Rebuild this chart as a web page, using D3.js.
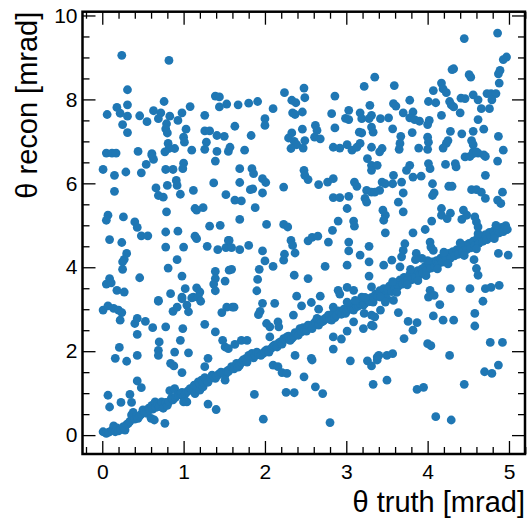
<!DOCTYPE html>
<html><head><meta charset="utf-8">
<script src="https://cdn.jsdelivr.net/npm/d3@7"></script>
<style>html,body{margin:0;padding:0;background:#fff;}svg{display:block;}</style>
</head><body>
<svg id="chart" width="529" height="519"></svg>
<script>
// Scattered (mis-reconstructed) points: theta truth / theta recon [mrad]
const scatterTruth = [
0.24,0.82,0.31,0.31,0.18,0.06,0.22,0.31,0.25,0.31,0.46,0.55,0.63,0.72,0.76,0.69,0.79,0.83,0.78,0.80,0.93,0.98,1.08,1.03,1.00,1.01,1.10,0.81,0.82,0.89,0.77,0.61,0.44,0.05,0.12,0.17,1.26,1.26,1.32,1.28,1.41,1.50,1.26,1.41,1.55,1.39,1.44,1.44,1.53,
3.35,3.22,2.48,2.49,2.24,2.33,2.38,2.86,1.67,1.80,1.91,2.10,2.00,2.00,1.63,1.83,1.57,1.75,2.34,2.37,2.46,2.46,2.33,2.29,2.36,2.39,2.32,2.49,2.47,2.62,2.64,2.61,2.68,2.82,2.86,3.03,2.99,3.03,3.17,3.19,3.29,3.31,3.28,3.16,3.19,2.84,2.92,3.01,3.07,3.13,3.17,3.31,3.33,3.31,
4.86,4.45,4.97,4.93,4.89,4.87,4.88,4.32,4.30,4.51,4.53,3.59,4.07,4.17,4.19,4.23,4.41,4.46,4.56,4.62,4.73,4.78,4.84,4.79,4.66,4.76,3.78,4.01,4.10,4.27,4.29,4.32,4.40,3.58,3.61,3.70,3.82,3.78,3.84,3.90,3.52,3.42,4.17,4.02,4.00,4.62,4.69,4.28,4.42,4.56,3.57,3.81,3.67,4.00,4.01,4.25,4.23,4.19,4.54,4.56,4.87,4.93,3.66,3.65,3.44,3.41,3.89,4.00,4.56,4.62,4.69,
0.01,0.15,0.29,0.48,0.54,0.63,0.61,0.78,0.87,1.00,0.99,0.91,0.92,0.96,0.80,0.66,0.69,0.75,0.15,1.12,1.37,1.39,1.52,0.79,1.14,1.16,1.24,0.07,0.05,0.26,0.40,0.43,0.48,0.56,0.78,0.93,1.14,1.16,1.32,1.45,1.55,0.09,0.24,0.78,1.00,1.29,1.42,1.52,0.30,0.27,0.25,0.92,0.25,0.81,0.46,0.98,1.39,1.56,0.09,0.05,0.11,0.18,0.27,1.39,1.37,1.39,1.51,0.84,0.69,1.02,1.16,1.20,1.12,0.98,
1.69,1.84,1.86,1.69,1.97,2.01,1.82,1.85,1.97,2.23,1.63,1.71,1.88,1.69,2.02,2.23,2.28,2.48,2.49,2.53,2.66,2.77,2.84,2.84,2.92,3.03,3.01,3.10,3.13,3.26,3.31,3.31,3.25,3.31,3.23,3.25,2.90,2.83,3.09,3.10,2.53,2.58,2.65,2.78,2.32,2.34,2.37,2.24,2.23,1.56,1.59,1.69,1.80,1.97,2.00,2.10,1.59,1.93,1.91,1.90,2.36,2.53,2.74,3.03,3.03,3.01,3.17,3.28,3.28,3.28,3.31,2.90,2.92,3.01,3.09,3.19,3.23,2.39,2.68,
3.38,3.44,3.48,3.41,3.35,3.58,3.57,3.68,3.70,3.74,3.78,3.82,3.92,4.01,4.03,4.06,4.08,4.06,4.22,4.34,4.35,4.26,4.30,4.46,4.52,4.56,4.60,4.71,4.86,4.71,4.54,4.60,4.66,4.71,4.86,4.90,4.92,3.64,3.70,3.45,3.48,3.46,3.48,3.82,3.97,4.05,4.17,4.17,4.28,4.24,4.44,4.42,4.48,4.58,4.60,4.62,4.03,4.04,4.07,3.72,3.70,3.68,3.86,3.93,3.85,3.56,3.66,3.46,4.87,4.99,4.57,4.60,4.62,4.28,4.52,4.71,4.78,4.88,4.03,4.01,
0.01,0.07,0.14,0.20,0.24,0.22,0.40,0.43,0.53,0.69,0.62,0.43,0.78,0.87,0.92,0.98,1.04,1.06,1.10,1.18,1.21,0.99,1.26,1.39,1.47,1.53,0.70,0.69,0.69,0.21,0.16,0.30,0.43,0.89,1.06,0.96,0.84,0.88,0.98,1.26,1.30,1.48,1.51,0.43,0.48,0.07,0.09,0.23,0.34,0.36,1.30,1.40,0.77,
1.60,1.62,1.97,2.12,1.94,1.92,2.57,2.45,2.35,2.66,2.84,3.01,3.11,2.02,2.06,2.16,2.17,2.06,1.71,1.78,1.63,1.55,2.84,2.94,2.84,3.01,3.09,3.21,3.31,3.31,3.22,2.37,2.57,2.58,2.10,2.16,2.21,2.27,2.48,2.62,2.71,2.26,2.36,1.87,1.98,2.80,3.05,3.26,3.31,3.33,
3.42,3.48,3.58,3.42,3.35,3.33,3.64,3.76,3.87,3.82,3.71,4.08,4.15,4.07,4.19,4.32,4.00,4.04,4.27,4.68,4.58,4.58,4.77,4.92,3.38,3.40,3.38,3.50,3.57,3.50,3.87,3.95,4.45,4.70,4.79,4.87,4.10,4.29
];
const scatterRecon = [
9.05,8.93,8.23,7.87,7.81,7.64,7.67,7.60,7.40,7.21,7.61,7.47,7.73,7.68,7.95,7.54,7.42,7.60,7.30,7.20,7.50,7.68,7.83,7.29,7.10,6.98,6.79,6.95,6.83,6.83,6.75,6.71,6.76,6.72,6.72,6.72,7.62,7.25,7.25,6.98,7.14,7.12,6.81,6.76,6.76,8.08,8.06,7.82,7.89,
8.53,8.31,8.27,8.04,8.16,7.98,7.92,8.08,7.87,7.91,7.95,7.78,7.54,7.38,7.36,7.14,6.86,6.79,7.68,7.64,7.70,7.29,7.20,7.08,7.00,6.92,6.83,7.02,6.84,7.38,7.26,7.10,7.06,7.66,7.32,7.74,7.55,7.52,7.68,7.54,7.86,7.62,7.54,7.22,7.20,6.86,6.84,6.92,6.79,6.86,6.95,7.34,7.22,6.86,
9.58,9.45,9.01,8.95,8.69,8.61,8.39,8.73,8.71,8.59,8.53,8.33,8.21,8.39,8.25,8.16,8.03,8.02,8.11,7.99,8.14,8.14,8.14,7.99,7.78,7.78,7.98,7.95,7.92,7.95,7.87,7.82,7.68,7.90,7.84,7.68,7.70,7.56,7.52,7.48,7.56,7.54,7.62,7.50,7.40,7.52,7.29,7.24,7.18,7.24,7.30,7.21,7.12,7.10,6.98,7.02,6.95,6.84,7.02,6.92,7.12,6.79,6.95,6.81,6.83,6.75,6.84,6.81,6.75,6.72,6.68,
6.33,6.19,6.27,6.25,6.45,6.57,6.67,6.33,6.33,6.48,6.35,6.07,5.95,5.74,5.95,5.89,5.71,5.67,5.81,5.83,6.01,6.53,5.73,5.32,5.40,5.36,5.42,5.24,5.12,5.20,5.08,4.95,4.75,4.75,4.84,4.86,4.74,4.68,4.98,5.00,4.64,4.66,4.59,4.48,4.48,4.50,4.42,4.47,4.33,4.19,4.13,4.18,3.95,3.98,3.75,3.79,3.90,3.93,3.73,3.60,3.63,3.45,3.41,3.73,3.60,3.44,3.67,3.37,3.21,3.49,3.51,3.41,3.29,3.29,
6.35,6.35,6.23,6.02,6.11,6.02,5.85,5.87,5.77,5.91,5.60,5.58,5.42,5.14,5.02,5.02,4.96,6.31,6.19,6.09,5.97,6.03,6.11,5.66,5.66,5.69,5.40,6.03,5.93,6.59,6.43,6.31,5.83,5.79,5.64,5.55,5.10,4.88,5.10,4.98,4.63,4.71,4.74,4.60,4.64,4.52,4.34,4.31,4.17,4.64,4.47,4.42,4.52,4.39,4.15,4.02,3.95,3.95,3.71,3.44,3.81,3.73,4.02,4.60,4.39,4.05,4.29,4.50,4.13,3.79,3.53,3.45,3.36,3.52,3.45,3.29,3.28,3.31,3.31,
6.43,6.03,5.99,5.83,5.79,6.19,5.99,6.03,5.77,6.31,6.43,6.15,6.17,6.47,6.35,5.99,5.77,5.71,6.45,6.47,6.39,5.93,5.93,6.63,6.64,6.71,6.75,6.64,6.53,6.19,5.85,5.85,5.79,5.64,5.60,5.52,5.79,5.55,5.32,5.36,5.24,5.12,4.82,4.82,4.90,5.10,5.40,5.24,5.29,5.16,5.36,5.14,5.24,5.20,5.08,4.96,4.60,4.48,4.40,4.56,4.40,4.25,4.33,4.21,4.18,4.17,4.01,4.05,4.33,4.29,4.18,3.97,3.81,3.49,3.49,3.49,3.52,3.57,3.45,3.29,
2.98,3.08,3.02,2.98,2.92,2.74,2.66,2.78,2.71,3.19,2.56,2.40,2.58,2.95,3.05,3.25,3.10,2.94,3.27,3.29,3.19,2.54,2.64,2.46,2.92,3.05,2.22,2.02,1.90,2.09,1.83,1.76,1.90,1.98,1.96,2.26,1.71,1.65,1.49,1.63,1.83,2.26,2.10,1.29,1.13,0.95,0.67,0.78,0.97,0.78,0.74,0.61,0.28,
3.05,3.05,3.14,3.14,2.95,2.87,3.16,3.08,2.86,3.00,3.05,3.17,3.21,2.66,2.58,2.70,2.58,2.34,2.26,2.26,2.16,2.06,2.34,2.29,2.05,2.48,2.70,2.54,2.62,2.86,2.90,1.90,1.83,1.79,1.67,1.63,1.49,1.47,1.39,1.15,0.99,1.02,1.01,0.97,0.38,0.30,1.77,1.77,1.65,1.21,
3.29,3.17,3.21,2.98,2.82,2.60,2.92,2.71,2.68,2.50,2.30,3.33,3.11,2.84,2.74,2.74,2.18,2.13,1.90,3.19,2.90,2.60,2.21,2.21,1.86,1.90,1.79,1.90,1.94,1.31,1.09,1.14,1.21,1.51,1.47,1.67,0.44,0.36
];
// Points along the diagonal (well reconstructed)
const bandTruth = [
0.01,0.05,0.08,0.12,0.14,0.16,0.18,0.20,0.23,0.26,0.28,0.30,0.32,0.34,0.36,0.38,0.40,0.42,0.44,0.46,0.48,0.50,0.52,0.55,0.57,0.58,0.60,0.61,0.62,0.64,0.65,0.66,0.68,0.70,0.73,0.75,0.78,0.80,0.82,0.83,0.85,0.87,0.89,0.90,0.92,0.94,0.96,0.98,1.00,1.00,1.02,1.04,1.04,1.06,1.08,1.10,1.12,1.13,1.14,1.16,1.18,1.20,1.20,1.22,1.24,1.24,1.26,1.28,1.30,1.33,1.35,1.37,1.39,1.41,1.43,1.46,1.49,1.51,1.53,1.55,
1.51,1.55,1.59,1.62,1.65,1.67,1.69,1.71,1.73,1.76,1.78,1.80,1.84,1.86,1.88,1.90,1.92,1.95,1.98,2.00,2.02,2.05,2.08,2.10,2.12,2.15,2.17,2.19,2.21,2.23,2.25,2.27,2.29,2.31,2.33,2.35,2.37,2.39,2.41,2.43,2.45,2.47,2.49,2.51,2.53,2.55,2.58,2.60,2.62,2.64,2.66,2.68,2.70,2.72,2.74,2.76,2.78,2.80,2.82,2.84,2.86,2.88,2.90,2.92,2.94,2.97,2.99,3.01,3.03,3.05,3.07,3.09,3.11,3.13,3.15,3.17,3.19,3.21,3.23,3.25,3.27,3.29,3.31,3.33,
3.34,3.36,3.39,3.41,3.44,3.46,3.48,3.51,3.53,3.56,3.58,3.60,3.63,3.64,3.66,3.69,3.71,3.73,3.76,3.78,3.80,3.83,3.85,3.88,3.90,3.93,3.94,3.97,3.99,4.02,4.04,4.06,4.09,4.11,4.13,4.16,4.18,4.21,4.23,4.26,4.28,4.31,4.33,4.36,4.38,4.41,4.43,4.46,4.48,4.51,4.53,4.56,4.58,4.61,4.63,4.66,4.68,4.71,4.73,4.76,4.78,4.81,4.83,4.86,4.88,4.91,4.93,4.96,4.98,
3.50,3.62,3.75,3.88,3.98,4.12,4.25,4.45,4.60,4.82,3.57,3.79,4.00,4.20,4.40,4.62,4.84
];
const bandRecon = [
0.08,0.04,0.07,0.12,0.22,0.08,0.17,0.10,0.14,0.20,0.12,0.25,0.28,0.33,0.48,0.54,0.38,0.44,0.40,0.46,0.50,0.60,0.55,0.52,0.64,0.60,0.40,0.71,0.62,0.36,0.79,0.66,0.74,0.68,0.79,0.64,0.78,0.71,0.80,1.06,0.88,0.84,1.11,0.90,0.95,0.96,0.99,1.02,0.91,0.79,0.98,1.03,0.79,1.06,1.11,1.08,1.14,1.19,0.99,1.16,1.27,1.07,1.22,1.31,1.15,1.25,1.37,1.30,1.26,1.36,1.43,1.40,1.35,1.41,1.45,1.50,1.47,1.43,1.52,1.55,
1.31,1.51,1.63,1.58,1.71,1.62,1.67,1.74,1.79,1.82,1.74,1.90,1.95,1.84,1.90,1.98,1.95,1.90,1.95,2.00,2.03,1.98,2.07,2.12,2.15,2.10,2.20,2.22,2.17,2.30,2.28,2.34,2.36,2.26,2.30,2.34,2.44,2.42,2.38,2.54,2.46,2.56,2.50,2.48,2.62,2.60,2.54,2.66,2.70,2.78,2.62,2.74,2.70,2.72,2.78,2.80,2.86,2.76,2.74,2.90,2.80,2.86,2.96,2.94,2.88,3.00,2.90,2.96,3.02,3.08,3.02,2.98,3.12,3.06,3.08,3.14,3.20,3.10,3.14,3.24,3.21,3.18,3.28,3.17,
3.27,3.36,3.31,3.44,3.38,3.49,3.33,3.47,3.55,3.42,3.58,3.50,3.64,3.55,3.70,3.60,3.76,3.66,3.72,3.83,3.70,3.86,3.76,3.92,3.82,3.96,3.87,4.02,3.93,4.08,3.98,4.13,4.02,4.16,4.08,4.22,4.12,4.28,4.17,4.33,4.22,4.37,4.27,4.42,4.31,4.47,4.36,4.52,4.42,4.57,4.46,4.62,4.52,4.68,4.57,4.72,4.62,4.78,4.66,4.83,4.72,4.86,4.77,4.90,4.82,4.95,4.85,4.99,4.90,
3.25,3.40,3.58,3.68,3.80,3.96,4.08,4.28,4.44,4.68,3.66,3.95,4.16,4.36,4.58,4.80,5.00
];
const xMajorTicks = [0, 1, 2, 3, 4, 5];
const yMajorTicks = [0, 2, 4, 6, 8, 10];
const xMinorTicks = [-0.2,0.2,0.4,0.6,0.8,1.2,1.4,1.6,1.8,2.2,2.4,2.6,2.8,3.2,3.4,3.6,3.8,4.2,4.4,4.6,4.8,5.2];
const yMinorTicks = [0.5,1,1.5,2.5,3,3.5,4.5,5,5.5,6.5,7,7.5,8.5,9,9.5];
const xTitle = "θ truth [mrad]";
const yTitle = "θ recon [mrad]";

const pts = [];
bandTruth.forEach((t, i) => pts.push([t, bandRecon[i]]));
scatterTruth.forEach((t, i) => pts.push([t, scatterRecon[i]]));

const svg = d3.select("#chart");
const m = {left: 82.5, top: 11.7, right: 525, bottom: 454};
const W = m.right - m.left, H = m.bottom - m.top;
const x = d3.scaleLinear().domain([-0.243, 5.197]).range([0, W]);
const y = d3.scaleLinear().domain([-0.45, 10.09]).range([H, 0]);
const g = svg.append("g").attr("transform", `translate(${m.left},${m.top})`);
const font = "'Liberation Sans', Arial, Helvetica, sans-serif";

g.append("g").selectAll("circle").data(pts).join("circle")
  .attr("cx", d => x(d[0])).attr("cy", d => y(d[1])).attr("r", 4.4)
  .attr("fill", "#1f77b4");

function styleAxis(sel, labels) {
  sel.select(".domain").remove();
  sel.selectAll(".tick line").attr("stroke", "#000").attr("stroke-width", 1.3);
  sel.selectAll("text").attr("font-family", font).attr("font-size", 21).attr("fill", "#000");
  if (!labels) sel.selectAll("text").remove();
}
const maj = 13, mnr = 7;
styleAxis(g.append("g").attr("transform", `translate(0,${H})`).call(d3.axisBottom(x).tickValues(xMajorTicks).tickSize(-maj).tickPadding(10.5).tickFormat(d3.format("d"))), true);
styleAxis(g.append("g").attr("transform", `translate(0,${H})`).call(d3.axisBottom(x).tickValues(xMinorTicks).tickSize(-mnr)), false);
styleAxis(g.append("g").call(d3.axisTop(x).tickValues(xMajorTicks).tickSize(-maj)), false);
styleAxis(g.append("g").call(d3.axisTop(x).tickValues(xMinorTicks).tickSize(-mnr)), false);
styleAxis(g.append("g").call(d3.axisLeft(y).tickValues(yMajorTicks).tickSize(-maj).tickPadding(5).tickFormat(d3.format("d"))), true);
styleAxis(g.append("g").call(d3.axisLeft(y).tickValues(yMinorTicks).tickSize(-mnr)), false);
styleAxis(g.append("g").attr("transform", `translate(${W},0)`).call(d3.axisRight(y).tickValues(yMajorTicks).tickSize(-maj)), false);
styleAxis(g.append("g").attr("transform", `translate(${W},0)`).call(d3.axisRight(y).tickValues(yMinorTicks).tickSize(-mnr)), false);

g.append("rect").attr("width", W).attr("height", H).attr("fill", "none")
  .attr("stroke", "#000").attr("stroke-width", 2.5);

svg.append("text").attr("x", m.right).attr("y", 512).attr("text-anchor", "end")
  .attr("font-family", font).attr("font-size", 29).attr("fill", "#000").text(xTitle);
svg.append("text").attr("transform", `translate(37,${m.top}) rotate(-90)`).attr("text-anchor", "end")
  .attr("font-family", font).attr("font-size", 29).attr("fill", "#000").text(yTitle);
</script>
</body></html>
